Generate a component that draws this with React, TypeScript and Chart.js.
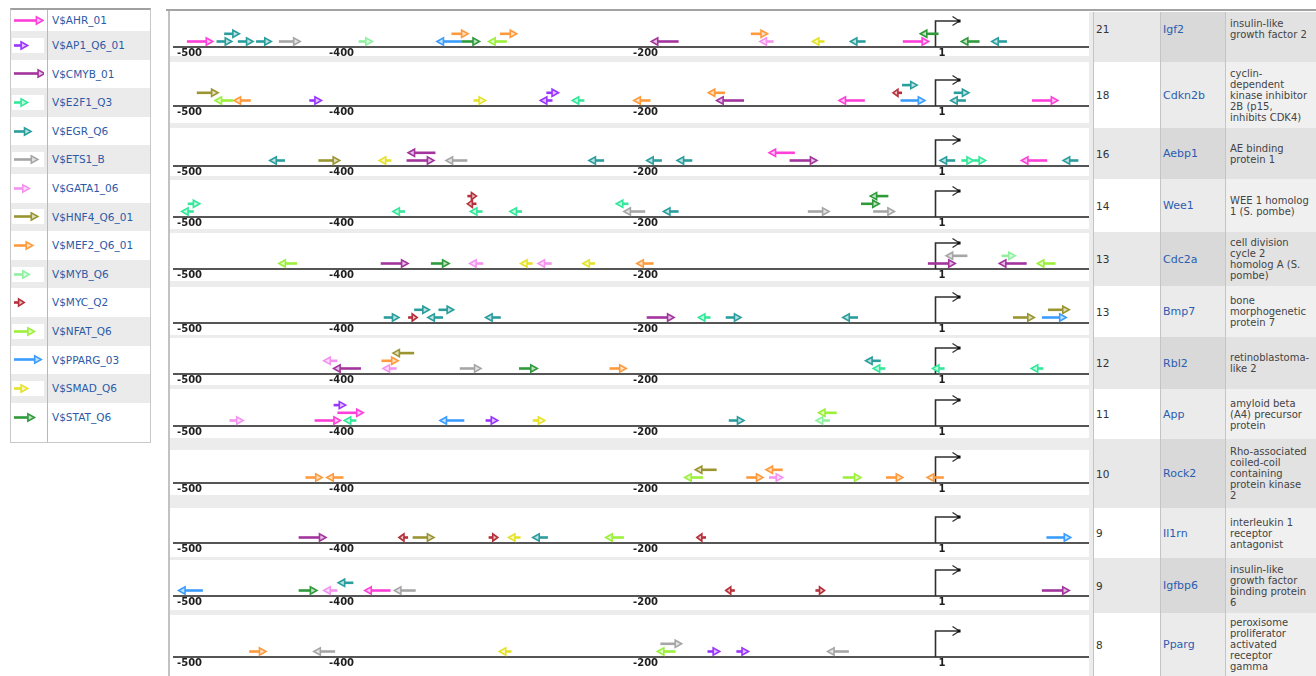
import React, { useEffect, useRef } from 'react';
import { Chart, registerables } from 'chart.js';

Chart.register(...registerables);

// ---------------- data ----------------
const FACTOR_KEYS = ['AHR', 'AP1', 'CMYB', 'E2F1', 'EGR', 'ETS1', 'GATA1', 'HNF4', 'MEF2', 'MYB', 'MYC', 'NFAT', 'PPARG', 'SMAD', 'STAT'];
const FACTOR_LABELS = ['V$AHR_01', 'V$AP1_Q6_01', 'V$CMYB_01', 'V$E2F1_Q3', 'V$EGR_Q6', 'V$ETS1_B', 'V$GATA1_06', 'V$HNF4_Q6_01', 'V$MEF2_Q6_01', 'V$MYB_Q6', 'V$MYC_Q2', 'V$NFAT_Q6', 'V$PPARG_03', 'V$SMAD_Q6', 'V$STAT_Q6'];
// binding-site (matrix) length in bp
const FACTOR_SITE_LENGTHS = [17, 8, 18, 8, 10, 14, 9, 14, 11, 9, 6, 12, 16, 8, 12];
const FACTOR_COLORS = ['#ff3fd9', '#9b33ff', '#a3349e', '#33e89a', '#2a9d9d', '#a6a6a6', '#f592f0', '#9a9530', '#ff9a3c', '#8ff0a0', '#b5303a', '#9cf03a', '#3a9cff', '#e6e22a', '#2e9a3a'];

const GENE_SYMBOLS = ['Igf2', 'Cdkn2b', 'Aebp1', 'Wee1', 'Cdc2a', 'Bmp7', 'Rbl2', 'App', 'Rock2', 'Il1rn', 'Igfbp6', 'Pparg'];
const GENE_DESCRIPTIONS = [
  ['insulin-like', 'growth factor 2'],
  ['cyclin-', 'dependent', 'kinase inhibitor', '2B (p15,', 'inhibits CDK4)'],
  ['AE binding', 'protein 1'],
  ['WEE 1 homolog', '1 (S. pombe)'],
  ['cell division', 'cycle 2', 'homolog A (S.', 'pombe)'],
  ['bone', 'morphogenetic', 'protein 7'],
  ['retinoblastoma-', 'like 2'],
  ['amyloid beta', '(A4) precursor', 'protein'],
  ['Rho-associated', 'coiled-coil', 'containing', 'protein kinase', '2'],
  ['interleukin 1', 'receptor', 'antagonist'],
  ['insulin-like', 'growth factor', 'binding protein', '6'],
  ['peroxisome', 'proliferator', 'activated', 'receptor', 'gamma'],
];

// sites: [factor, centre position (bp, relative to TSS), strand (+1 / -1), stacking level]
const IGF2_SITES = [
  ['AHR', -485, 1, 0], ['EGR', -469, 1, 0], ['EGR', -464, 1, 1], ['EGR', -455, 1, 0], ['EGR', -443, 1, 0],
  ['ETS1', -426, 1, 0], ['MYB', -376, 1, 0], ['PPARG', -321, -1, 0], ['MEF2', -314, 1, 1], ['STAT', -307, 1, 0],
  ['NFAT', -289, -1, 0], ['MEF2', -282, 1, 1], ['CMYB', -179, -1, 0], ['MEF2', -117, 1, 1], ['GATA1', -112, -1, 0],
  ['SMAD', -78, -1, 0], ['EGR', -52, -1, 0], ['AHR', -14, 1, 0], ['STAT', -5, -1, 1], ['STAT', 22, -1, 0], ['EGR', 41, -1, 0],
];
const CDKN2B_SITES = [
  ['HNF4', -480, 1, 1], ['NFAT', -469, -1, 0], ['MEF2', -457, -1, 0], ['AP1', -409, 1, 0], ['SMAD', -301, 1, 0],
  ['AP1', -253, 1, 1], ['AP1', -257, -1, 0], ['E2F1', -236, -1, 0], ['MEF2', -194, -1, 0], ['MEF2', -145, -1, 1],
  ['CMYB', -136, -1, 0], ['AHR', -56, -1, 0], ['MYC', -26, -1, 1], ['EGR', -18, 1, 2], ['PPARG', -16, 1, 0],
  ['EGR', 16, 1, 1], ['EGR', 14, -1, 0], ['AHR', 71, 1, 0],
];
const AEBP1_SITES = [
  ['EGR', -434, -1, 0], ['HNF4', -400, 1, 0], ['SMAD', -363, -1, 0], ['CMYB', -339, -1, 1], ['CMYB', -340, 1, 0],
  ['ETS1', -316, -1, 0], ['EGR', -224, -1, 0], ['EGR', -186, -1, 0], ['EGR', -166, -1, 0], ['AHR', -102, -1, 1],
  ['CMYB', -88, 1, 0], ['EGR', 7, -1, 0], ['E2F1', 20, 1, 0], ['E2F1', 28, 1, 0], ['AHR', 64, -1, 0], ['EGR', 88, -1, 0],
];
const WEE1_SITES = [
  ['E2F1', -489, 1, 1], ['E2F1', -493, -1, 0], ['E2F1', -354, -1, 0], ['MYC', -306, 1, 2], ['MYC', -306, -1, 1],
  ['E2F1', -303, -1, 0], ['E2F1', -277, -1, 0], ['E2F1', -207, -1, 1], ['ETS1', -199, -1, 0], ['EGR', -175, -1, 0],
  ['ETS1', -78, 1, 0], ['STAT', -38, -1, 2], ['STAT', -44, 1, 1], ['ETS1', -35, 1, 0],
];
const CDC2A_SITES = [
  ['NFAT', -427, -1, 0], ['CMYB', -357, 1, 0], ['STAT', -327, 1, 0], ['GATA1', -303, -1, 0], ['SMAD', -270, -1, 0],
  ['GATA1', -258, -1, 0], ['SMAD', -229, -1, 0], ['MEF2', -192, -1, 0], ['CMYB', 3, 1, 0], ['ETS1', 13, -1, 1],
  ['MYB', 47, 1, 1], ['CMYB', 50, -1, 0], ['NFAT', 72, -1, 0],
];
const BMP7_SITES = [
  ['EGR', -359, 1, 0], ['MYC', -345, 1, 0], ['EGR', -339, 1, 1], ['EGR', -330, -1, 0], ['EGR', -323, 1, 1],
  ['EGR', -292, -1, 0], ['CMYB', -182, 1, 0], ['E2F1', -153, -1, 0], ['EGR', -134, 1, 0], ['EGR', -57, -1, 0],
  ['HNF4', 57, 1, 0], ['HNF4', 80, 1, 1], ['PPARG', 77, 1, 0],
];
const RBL2_SITES = [
  ['GATA1', -399, -1, 1], ['CMYB', -388, -1, 0], ['HNF4', -351, -1, 2], ['MEF2', -360, 1, 1], ['GATA1', -360, -1, 0],
  ['ETS1', -307, 1, 0], ['STAT', -269, 1, 0], ['MEF2', -210, 1, 0], ['EGR', -42, -1, 1], ['E2F1', -38, -1, 0],
  ['E2F1', 1, -1, 0], ['E2F1', 66, -1, 0],
];
const APP_SITES = [
  ['GATA1', -461, 1, 0], ['AP1', -393, 1, 2], ['AHR', -386, 1, 1], ['AHR', -401, 1, 0], ['E2F1', -386, -1, 0],
  ['PPARG', -319, -1, 0], ['AP1', -293, 1, 0], ['SMAD', -262, 1, 0], ['EGR', -132, 1, 0], ['NFAT', -72, -1, 1],
  ['MYB', -75, -1, 0],
];
const ROCK2_SITES = [
  ['MEF2', -410, 1, 0], ['MEF2', -396, -1, 0], ['NFAT', -160, -1, 0], ['HNF4', -152, -1, 1], ['MEF2', -120, 1, 0],
  ['MEF2', -107, -1, 1], ['GATA1', -106, 1, 0], ['NFAT', -56, 1, 0], ['MEF2', -28, 1, 0], ['MEF2', -1, -1, 0],
];
const IL1RN_SITES = [
  ['CMYB', -411, 1, 0], ['MYC', -351, -1, 0], ['HNF4', -338, 1, 0], ['MYC', -292, 1, 0], ['SMAD', -278, -1, 0],
  ['EGR', -261, -1, 0], ['NFAT', -212, -1, 0], ['MYC', -155, -1, 0], ['PPARG', 80, 1, 0],
];
const IGFBP6_SITES = [
  ['PPARG', -491, -1, 0], ['STAT', -414, 1, 0], ['GATA1', -399, -1, 0], ['EGR', -389, -1, 1], ['AHR', -368, -1, 0],
  ['ETS1', -350, -1, 0], ['MYC', -136, -1, 0], ['MYC', -77, 1, 0], ['CMYB', 78, 1, 0],
];
const PPARG_SITES = [
  ['MEF2', -447, 1, 0], ['ETS1', -403, -1, 0], ['SMAD', -284, -1, 0], ['ETS1', -175, 1, 1], ['NFAT', -178, -1, 0],
  ['AP1', -147, 1, 0], ['AP1', -128, 1, 0], ['ETS1', -65, -1, 0],
];
const GENE_SITES = [IGF2_SITES, CDKN2B_SITES, AEBP1_SITES, WEE1_SITES, CDC2A_SITES, BMP7_SITES, RBL2_SITES, APP_SITES, ROCK2_SITES, IL1RN_SITES, IGFBP6_SITES, PPARG_SITES];

const AXIS_MIN = -502;
const AXIS_MAX = 100;
const TICK_VALUES = [-500, -400, -200, 1];
const TSS_POSITION = -1;

// ---------------- layout (page pixels) ----------------
const ROW_TOPS = [12, 62, 128, 179, 232, 286, 337, 389, 439, 508, 558, 613, 676];
const IMAGE_TOPS = [12, 62, 128, 180, 233, 287, 338, 389, 450, 508, 560, 615];
const IMAGE_BOTTOMS = [56, 123, 176, 229, 281, 335, 385, 438, 495, 557, 610, 676];
const AXIS_LINE_Y = [47, 106, 166, 217, 269, 323, 374, 426, 483, 543, 596, 657];
const TEXT_PAD_BOTTOM = [16, 0, 0, 0, 0, 0, 0, 0, 0, 0, 0, 0];
const CANVAS_LEFT = 170;
const CANVAS_WIDTH = 919;
const PLOT_PAD_LEFT = 4;
const LEVEL_PX = 7.7;
const LEVEL0_OFFSET = 5.5;
const FONT = '"DejaVu Sans", Verdana, sans-serif';

function tint(hex: string, t: number) {
  const n = parseInt(hex.slice(1), 16);
  const r = (n >> 16) & 255, g = (n >> 8) & 255, b = n & 255;
  const m = (c: number) => Math.round(c + (255 - c) * t);
  return `rgb(${m(r)},${m(g)},${m(b)})`;
}

function drawSiteArrow(ctx: CanvasRenderingContext2D, xTail: number, xHead: number, y: number, color: string) {
  const dir = xHead >= xTail ? 1 : -1;
  const total = Math.abs(xHead - xTail);
  const headLen = Math.min(6.5, total * 0.55);
  const half = 3.6;
  const baseX = xHead - dir * headLen;
  ctx.save();
  ctx.lineCap = 'butt';
  ctx.strokeStyle = color;
  ctx.lineWidth = 2.6;
  ctx.beginPath();
  ctx.moveTo(xTail, y);
  ctx.lineTo(baseX, y);
  ctx.stroke();
  ctx.beginPath();
  ctx.moveTo(xHead, y);
  ctx.lineTo(baseX, y - half);
  ctx.lineTo(baseX, y + half);
  ctx.closePath();
  ctx.fillStyle = tint(color, 0.7);
  ctx.fill();
  ctx.lineWidth = 1.6;
  ctx.lineJoin = 'miter';
  ctx.stroke();
  ctx.restore();
}

const siteArrowPlugin = {
  id: 'siteArrows',
  afterDatasetsDraw(chart: any) {
    const ctx: CanvasRenderingContext2D = chart.ctx;
    const xs = chart.scales.x;
    const yb = chart.chartArea.bottom;
    // transcription start site marker
    const tx = Math.round(xs.getPixelForValue(TSS_POSITION)) + 0.5;
    ctx.save();
    ctx.strokeStyle = '#2f2f2f';
    ctx.lineWidth = 1.6;
    ctx.beginPath();
    ctx.moveTo(tx, yb);
    ctx.lineTo(tx, yb - 26);
    ctx.lineTo(tx + 24, yb - 26);
    ctx.stroke();
    ctx.lineWidth = 1.3;
    ctx.beginPath();
    ctx.moveTo(tx + 17, yb - 30.5);
    ctx.lineTo(tx + 24, yb - 26);
    ctx.lineTo(tx + 17, yb - 21.5);
    ctx.stroke();
    ctx.fillStyle = '#111';
    ctx.fillRect(tx + 22, yb - 27.5, 3, 3);
    ctx.restore();

    chart.data.datasets.forEach((ds: any, di: number) => {
      const meta = chart.getDatasetMeta(di);
      const fi = ds.factorIndex;
      const len = FACTOR_SITE_LENGTHS[fi];
      meta.data.forEach((pt: any, j: number) => {
        const d = ds.data[j];
        const xl = xs.getPixelForValue(d.x - len / 2);
        const xr = xs.getPixelForValue(d.x + len / 2);
        if (d.strand > 0) drawSiteArrow(ctx, xl, xr, pt.y, FACTOR_COLORS[fi]);
        else drawSiteArrow(ctx, xr, xl, pt.y, FACTOR_COLORS[fi]);
      });
    });
  },
};

function SiteChart({ row }: { row: number }) {
  const ref = useRef<HTMLCanvasElement>(null);
  const height = IMAGE_BOTTOMS[row] - IMAGE_TOPS[row];
  const axisOffset = AXIS_LINE_Y[row] - IMAGE_TOPS[row];
  useEffect(() => {
    const sites = GENE_SITES[row] as any[];
    const datasets = FACTOR_KEYS.map((key, fi) => ({
      label: FACTOR_LABELS[fi],
      factorIndex: fi,
      data: sites.filter((s) => s[0] === key).map((s) => ({ x: s[1], y: s[3], strand: s[2] })),
      pointRadius: 0,
      pointHoverRadius: 0,
      backgroundColor: FACTOR_COLORS[fi],
      borderColor: FACTOR_COLORS[fi],
    })).filter((d) => d.data.length > 0);
    const levelMin = -LEVEL0_OFFSET / LEVEL_PX;
    const chart = new Chart(ref.current as HTMLCanvasElement, {
      type: 'scatter',
      data: { datasets } as any,
      options: {
        animation: false,
        responsive: false,
        events: [],
        layout: { padding: { left: PLOT_PAD_LEFT, right: 0, top: 0, bottom: 0 } },
        plugins: { legend: { display: false }, tooltip: { enabled: false } },
        scales: {
          x: {
            type: 'linear',
            min: AXIS_MIN,
            max: AXIS_MAX,
            afterBuildTicks: (s: any) => {
              s.ticks = TICK_VALUES.map((v) => ({ value: v }));
            },
            afterFit: (s: any) => {
              s.height = height - axisOffset;
            },
            grid: { display: false, drawTicks: false },
            border: { display: true, color: '#555555', width: 2 },
            ticks: {
              align: 'start',
              padding: 0,
              autoSkip: false,
              maxRotation: 0,
              color: '#1e1e1e',
              font: { family: FONT, size: 10, weight: 'bold' },
              callback: (v: any) => String(v),
            },
          } as any,
          y: {
            display: false,
            min: levelMin,
            max: levelMin + axisOffset / LEVEL_PX,
          },
        },
      },
      plugins: [siteArrowPlugin],
    });
    return () => chart.destroy();
  }, [row]);
  return (
    <canvas
      ref={ref}
      width={CANVAS_WIDTH}
      height={height}
      style={{ position: 'absolute', left: CANVAS_LEFT, top: IMAGE_TOPS[row], width: CANVAS_WIDTH, height, background: '#fff', display: 'block' }}
    />
  );
}

function LegendIcon({ fi }: { fi: number }) {
  const ref = useRef<HTMLCanvasElement>(null);
  useEffect(() => {
    const c = ref.current as HTMLCanvasElement;
    const ctx = c.getContext('2d') as CanvasRenderingContext2D;
    ctx.clearRect(0, 0, c.width, c.height);
    ctx.fillStyle = '#fff';
    ctx.fillRect(0, 0, c.width, c.height);
    drawSiteArrow(ctx, 2, 2 + FACTOR_SITE_LENGTHS[fi] * 1.7, 7.5, FACTOR_COLORS[fi]);
  }, [fi]);
  return <canvas ref={ref} width={32} height={15} style={{ display: 'block', width: 32, height: 15 }} />;
}

function Legend() {
  return (
    <div
      style={{
        position: 'absolute', left: 10, top: 8, width: 141, height: 435, boxSizing: 'border-box',
        borderTop: '2px solid #a0a0a0', borderLeft: '1px solid #c8c8c8', borderRight: '1px solid #c8c8c8',
        borderBottom: '1px solid #c8c8c8', background: '#fff',
      }}
    >
      <div style={{ position: 'absolute', left: 36, top: 0, bottom: 0, width: 1, background: '#b8b8b8' }} />
      {FACTOR_LABELS.map((lab, i) => {
        const top = i === 0 ? 0 : 21 + (i - 1) * 28.6;
        const h = i === 0 ? 21 : 28.6;
        return (
          <div key={lab} style={{ position: 'absolute', left: 0, width: 139, top, height: h, background: i % 2 ? '#ebebeb' : '#fff' }}>
            <div style={{ position: 'absolute', left: 36, top: 0, bottom: 0, width: 1, background: '#b8b8b8' }} />
            <div style={{ position: 'absolute', left: 1, top: (h - 15) / 2 }}>
              <LegendIcon fi={i} />
            </div>
            <div style={{ position: 'absolute', left: 41, top: 0, height: h, lineHeight: `${h}px`, fontSize: 10.5, color: '#2b5aa6', whiteSpace: 'nowrap' }}>
              {lab}
            </div>
          </div>
        );
      })}
    </div>
  );
}

function MainTable() {
  return (
    <>
      <div style={{ position: 'absolute', left: 166, top: 9, width: 1150, height: 2, background: '#a3a3a3' }} />
      <div style={{ position: 'absolute', left: 168, top: 11, width: 2, height: 665, background: '#c2c2c2' }} />
      {GENE_SYMBOLS.map((gene, i) => {
        const top = ROW_TOPS[i];
        const h = ROW_TOPS[i + 1] - ROW_TOPS[i];
        const grey = i % 2 === 0;
        const cell = (left: number, width: number, bg: string, pad: number, content: React.ReactNode) => (
          <div
            style={{
              position: 'absolute', left, top, width, height: h, boxSizing: 'border-box', background: bg,
              borderLeft: '1px solid #c4c4c4', display: 'flex', flexDirection: 'column', justifyContent: 'center',
              paddingLeft: pad, paddingBottom: TEXT_PAD_BOTTOM[i], overflow: 'hidden',
            }}
          >
            {content}
          </div>
        );
        return (
          <React.Fragment key={gene}>
            <div style={{ position: 'absolute', left: 170, top, width: 923, height: h, background: '#ececec' }} />
            <SiteChart row={i} />
            {cell(1093, 67, grey ? '#e8e8e8' : '#ffffff', 2, (
              <span style={{ fontSize: 10.5, color: '#333' }}>{GENE_SITES[i].length}</span>
            ))}
            {cell(1160, 65, grey ? '#d9d9d9' : '#ebebeb', 2, (
              <span style={{ fontSize: 11, color: '#2a5db0' }}>{gene}</span>
            ))}
            {cell(1225, 91, grey ? '#e2e2e2' : '#f0f0f0', 4, (
              <div style={{ fontSize: 10, lineHeight: '11px', color: '#444', whiteSpace: 'nowrap' }}>
                {GENE_DESCRIPTIONS[i].map((line, k) => (
                  <div key={k}>{line}</div>
                ))}
              </div>
            ))}
          </React.Fragment>
        );
      })}
    </>
  );
}

export default function App() {
  return (
    <div style={{ position: 'absolute', left: 0, top: 0, width: 1316, height: 676, overflow: 'hidden', background: '#fff', fontFamily: FONT }}>
      <Legend />
      <MainTable />
    </div>
  );
}
